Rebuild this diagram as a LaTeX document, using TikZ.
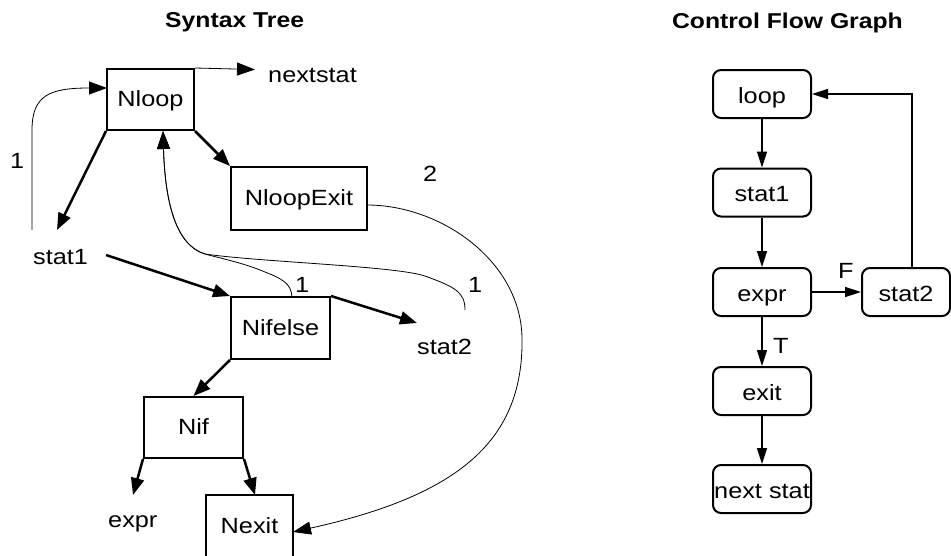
\documentclass[tikz,border=0pt]{standalone}
\usepackage{fontspec}
\setmainfont{Liberation Sans}[FakeStretch=1.15]
\usetikzlibrary{arrows.meta}
\begin{document}
\begin{tikzpicture}[x=1pt,y=-1pt,
  font=\fontsize{22}{26}\selectfont,
  tbox/.style={draw, line width=2pt, inner sep=0pt, text height=14pt, text depth=0pt},
  cbox/.style={draw, line width=2pt, rounded corners=8pt, inner sep=0pt, minimum width=98pt, minimum height=48pt, text height=18pt, text depth=0pt},
  lbl/.style={inner sep=0pt, anchor=base west},
  ttl/.style={inner sep=0pt, font=\fontsize{21.5}{26}\selectfont\bfseries},
  tharrow/.style={line width=2.5pt, -{Triangle[length=17pt,width=13pt]}},
  tnarrow/.style={line width=0.8pt, -{Triangle[length=18pt,width=13pt]}},
  carrow/.style={line width=1.5pt, -{Triangle[length=16pt,width=10pt]}},
]
\useasboundingbox (0,0) rectangle (951,555);

% titles
\node[ttl, anchor=base west] (t1) at (165,27) {Syntax Tree};
\node[ttl, anchor=base east] (t2) at (903,28) {Control Flow Graph};

% syntax tree boxes
\node[tbox, minimum width=87pt, minimum height=61pt] (Nloop) at (150.5,99.5) {Nloop};
\node[tbox, minimum width=136pt, minimum height=63pt] (NloopExit) at (299,198.5) {NloopExit};
\node[tbox, minimum width=99pt, minimum height=62pt] (Nifelse) at (280.5,328) {Nifelse};
\node[tbox, minimum width=99pt, minimum height=61pt] (Nif) at (193.5,427.5) {Nif};
\node[tbox, minimum width=87pt, minimum height=62pt] (Nexit) at (249.5,526) {Nexit};

% syntax tree labels
\node[lbl] (nextstat) at (268,82) {nextstat};
\node[lbl] (stat1) at (33,264) {stat1};
\node[lbl] (stat2) at (417,354) {stat2};
\node[lbl] (expr) at (108,527) {expr};
\node[lbl] (one1) at (10,168) {1};
\node[lbl] (two) at (423,181) {2};
\node[lbl] (one2) at (295,292) {1};
\node[lbl] (one3) at (468,292) {1};

% connector ends
\coordinate (nsTip) at (255,69.5);
\coordinate (s1Tip) at (57,230);
\coordinate (s1Out) at (106,255);
\coordinate (s2Tip) at (417,323);
\coordinate (exTip) at (133,495);
\coordinate (neTip) at (255,495);
\coordinate (loopStart) at (32,230);
\coordinate (loopBend) at (32,130);
\coordinate (nlLeft) at (107,88);
\coordinate (nifTop) at (292,297);
\coordinate (s2Top) at (465,310);
\coordinate (merge) at (205,254);
\coordinate (nlIn) at (163,131);
\coordinate (nleOut) at (367,205);
\coordinate (neIn) at (293,532);

% tree edges
\draw[tnarrow] (Nloop.north east) -- (nsTip);
\draw[tharrow] (Nloop.south west) -- (s1Tip);
\draw[tharrow] (Nloop.south east) -- (NloopExit.north west);
\draw[tharrow] (s1Out) -- (Nifelse.north west);
\draw[tharrow] (Nifelse.north east) -- (s2Tip);
\draw[tharrow] (Nifelse.south west) -- (Nif.north);
\draw[tharrow] (Nif.south west) -- (exTip);
\draw[tharrow] (Nif.south east) -- (neTip);

% thin curves
\draw[tnarrow] (loopStart) -- (loopBend) .. controls (32,95) and (50,88) .. (nlLeft);
\draw[tnarrow] (nifTop) .. controls (291,283) and (283,279) .. (260,270)
   .. controls (240,262) and (215,257) .. (merge)
   .. controls (175,245) and (165,200) .. (nlIn);
\draw[tnarrow] (s2Top) .. controls (465,292) and (455,287) .. (425,276)
   .. controls (395,266) and (260,262) .. (merge)
   .. controls (175,245) and (165,200) .. (nlIn);
\draw[tnarrow] (nleOut) .. controls (440,205) and (520,260) .. (522,337)
   .. controls (524,440) and (460,495) .. (neIn);

% control flow graph
\node[cbox] (loop) at (762,94) {loop};
\node[cbox] (cstat1) at (762,192.5) {stat1};
\node[cbox] (cexpr) at (762,292) {expr};
\node[cbox, minimum width=88pt] (cstat2) at (906,292) {stat2};
\node[cbox] (cexit) at (762,391) {exit};
\node[cbox] (cnext) at (762,489) {next stat};

\draw[carrow] (loop) -- (cstat1);
\draw[carrow] (cstat1) -- (cexpr);
\draw[carrow] (cexpr) -- (cstat2);
\draw[carrow] (cexpr) -- (cexit);
\draw[carrow] (cexit) -- (cnext);
\draw[carrow] ([xshift=6pt]cstat2.north) |- (loop.east);

\node[lbl] (F) at (838,278) {F};
\node[lbl] (T) at (773,353) {T};
\end{tikzpicture}
\end{document}
